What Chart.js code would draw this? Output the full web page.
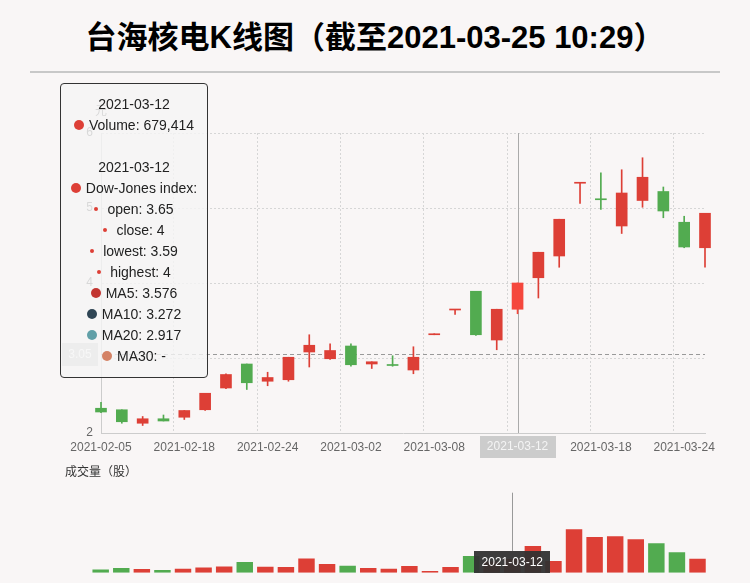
<!DOCTYPE html>
<html lang="zh-CN">
<head>
<meta charset="utf-8">
<title>台海核电K线图</title>
<script src="https://cdn.jsdelivr.net/npm/chart.js@4.4.1/dist/chart.umd.min.js"></script>
<style>
  html, body { margin: 0; padding: 0; }
  body {
    width: 750px;
    height: 583px;
    position: relative;
    overflow: hidden;
    background: #f9f6f6;
    font-family: "Liberation Sans", "Noto Sans CJK SC", sans-serif;
  }
  h1 {
    position: absolute;
    left: 0;
    top: 12px;
    width: 750px;
    margin: 0;
    text-align: center;
    line-height: 48px;
    font: bold 31px "Liberation Sans", "Noto Sans CJK SC", sans-serif;
    color: #000;
  }
  .rule { position: absolute; left: 30px; top: 71px; width: 690px; height: 2px; background: #c8c8c8; }
  #klineBox { position: absolute; left: 0; top: 90px; width: 750px; height: 370px; }
  #volumeBox { position: absolute; left: 0; top: 460px; width: 750px; height: 123px; }
  #tip {
    position: absolute;
    left: 60px;
    top: 83px;
    width: 148px;
    box-sizing: border-box;
    padding: 10px 0;
    border: 1px solid #333;
    border-radius: 4px;
    background: rgba(245, 245, 245, 0.8);
    color: #222;
    font-size: 14px;
    text-align: center;
  }
  .tip-row { height: 21px; line-height: 21px; white-space: nowrap; }
  .dot { display: inline-block; border-radius: 50%; vertical-align: middle; position: relative; top: -1px; }
</style>
</head>
<body>
<h1>台海核电K线图（截至2021-03-25 10:29）</h1>
<div class="rule"></div>
<div id="klineBox"><canvas id="klineChart"></canvas></div>
<div id="volumeBox"><canvas id="volumeChart"></canvas></div>
<div id="tip"></div>

<script>
const dates = [
  "2021-02-05", "2021-02-08", "2021-02-09", "2021-02-10", "2021-02-18",
  "2021-02-19", "2021-02-22", "2021-02-23", "2021-02-24", "2021-02-25",
  "2021-02-26", "2021-03-01", "2021-03-02", "2021-03-03", "2021-03-04",
  "2021-03-05", "2021-03-08", "2021-03-09", "2021-03-10", "2021-03-11",
  "2021-03-12", "2021-03-15", "2021-03-16", "2021-03-17", "2021-03-18",
  "2021-03-19", "2021-03-22", "2021-03-23", "2021-03-24", "2021-03-25",
];
const openPrices = [2.33, 2.31, 2.13, 2.19, 2.21, 2.31, 2.60, 2.92, 2.69, 2.71, 3.08, 2.99, 3.16, 2.92, 2.90, 2.84, 3.31, 3.64, 3.89, 3.24, 3.65, 4.07, 4.36, 5.33, 5.11, 4.76, 5.10, 5.22, 4.81, 4.47];
const closePrices = [2.28, 2.15, 2.19, 2.16, 2.30, 2.53, 2.78, 2.67, 2.74, 3.01, 3.17, 3.10, 2.91, 2.95, 2.90, 3.01, 3.31, 3.64, 3.31, 3.65, 4.00, 4.41, 4.85, 5.33, 5.11, 5.20, 5.41, 4.96, 4.48, 4.93];
const lowPrices = [2.27, 2.13, 2.10, 2.16, 2.18, 2.30, 2.59, 2.58, 2.63, 2.69, 2.88, 2.98, 2.89, 2.86, 2.89, 2.79, 3.31, 3.58, 3.30, 3.11, 3.59, 3.80, 4.21, 5.06, 4.98, 4.66, 5.01, 4.87, 4.47, 4.21];
const highPrices = [2.41, 2.31, 2.22, 2.24, 2.30, 2.53, 2.79, 2.92, 2.81, 3.01, 3.31, 3.19, 3.19, 2.95, 3.03, 3.15, 3.31, 3.64, 3.89, 3.65, 4.00, 4.41, 4.85, 5.33, 5.47, 5.51, 5.67, 5.28, 4.89, 4.93];
const volumes = [165000, 235000, 185000, 135000, 200000, 265000, 315000, 535000, 300000, 285000, 715000, 435000, 350000, 235000, 200000, 335000, 85000, 285000, 835000, 560000, 679414, 1335000, 585000, 2170000, 1785000, 1820000, 1670000, 1470000, 1020000, 700000];
const priceTicks = [2, 3, 4, 5, 6];
const volumeAxisMax = 4000000;

// hovered day and crosshair price shown in the picture
const activeIndex = 20;
const pointerPrice = 3.05;
const maNames = ["MA5", "MA10", "MA20", "MA30"];
const maValues = [3.576, 3.272, 2.917, null];
const maColors = ["#c23531", "#2f4554", "#61a0a8", "#d48265"];

const UP_COLOR = "#dd3f36";
const DOWN_COLOR = "#52ab50";
const ACTIVE_UP_COLOR = "#f5473d";
const FONT = '"Liberation Sans", "Noto Sans CJK SC", sans-serif';

Chart.defaults.font.family = FONT;
Chart.defaults.font.size = 12;

function isRising(i) {
  if (closePrices[i] !== openPrices[i]) return closePrices[i] > openPrices[i];
  return i === 0 || closePrices[i] >= closePrices[i - 1];
}

const candleColors = dates.map((_, i) => {
  if (!isRising(i)) return DOWN_COLOR;
  return i === activeIndex ? ACTIVE_UP_COLOR : UP_COLOR;
});
const volumeColors = dates.map((_, i) => (closePrices[i] >= openPrices[i] ? UP_COLOR : DOWN_COLOR));

function pointerBox(ctx, text, cx, top, width, height, fill, color) {
  ctx.fillStyle = fill;
  ctx.fillRect(Math.round(cx - width / 2), Math.round(top), width, height);
  ctx.fillStyle = color;
  ctx.textAlign = "center";
  ctx.textBaseline = "middle";
  ctx.fillText(text, cx, top + height / 2 + 0.5);
}

const klinePointer = {
  id: "klinePointer",
  beforeDatasetsDraw(chart) {
    const { ctx, chartArea, scales } = chart;
    const x = Math.round(scales.x.getPixelForValue(activeIndex)) + 0.5;
    const y = Math.round(scales.y.getPixelForValue(pointerPrice)) + 0.5;
    ctx.save();
    ctx.strokeStyle = "#aaa";
    ctx.lineWidth = 1;
    ctx.beginPath();
    ctx.moveTo(x, chartArea.top);
    ctx.lineTo(x, chartArea.bottom);
    ctx.stroke();
    ctx.strokeStyle = "#999";
    ctx.setLineDash([4, 3]);
    ctx.beginPath();
    ctx.moveTo(chartArea.left, y);
    ctx.lineTo(chartArea.right, y);
    ctx.stroke();
    ctx.restore();
  },
  afterDraw(chart) {
    const { ctx, chartArea, scales } = chart;
    const x = scales.x.getPixelForValue(activeIndex);
    const y = scales.y.getPixelForValue(pointerPrice);
    ctx.save();
    ctx.font = `12px ${FONT}`;
    ctx.fillStyle = "#666";
    ctx.textAlign = "center";
    ctx.textBaseline = "middle";
    ctx.fillText("元", chartArea.left, chartArea.top - 21);
    pointerBox(ctx, pointerPrice.toFixed(2), chartArea.left - 21, y - 11.5, 36, 23, "#ccc", "#fff");
    pointerBox(ctx, dates[activeIndex], x, chartArea.bottom + 2.5, 76, 22, "#ccc", "#f4f4f4");
    ctx.restore();
  },
};

new Chart(document.getElementById("klineChart"), {
  type: "bar",
  data: {
    labels: dates,
    datasets: [
      {
        label: "wick",
        data: dates.map((_, i) => [lowPrices[i], highPrices[i]]),
        backgroundColor: candleColors,
        barThickness: 1,
        minBarLength: 1,
        grouped: false,
        clip: false,
        order: 2,
      },
      {
        label: "Dow-Jones index",
        data: dates.map((_, i) => [
          Math.min(openPrices[i], closePrices[i]),
          Math.max(openPrices[i], closePrices[i]),
        ]),
        backgroundColor: candleColors,
        barThickness: 11,
        minBarLength: 1,
        grouped: false,
        clip: false,
        order: 1,
      },
    ],
  },
  options: {
    responsive: true,
    maintainAspectRatio: false,
    animation: false,
    events: [],
    layout: { padding: { left: 60, right: 45, top: 43, bottom: 0 } },
    plugins: {
      legend: { display: false },
      tooltip: { enabled: false },
    },
    scales: {
      x: {
        type: "category",
        offset: false,
        grid: {
          drawTicks: false,
          color: ctx => (ctx.index > 0 && ctx.index % 4 === 0 ? "#d6d6d6" : "transparent"),
        },
        border: { color: "#ccc", dash: [2, 2] },
        ticks: {
          autoSkip: false,
          minRotation: 0,
          maxRotation: 0,
          padding: 7,
          color: "#666",
          callback: (value, index) => (index % 4 === 0 ? dates[index] : ""),
        },
        afterFit: scale => { scale.height = 27; },
      },
      y: {
        min: 2,
        max: 6,
        afterBuildTicks: scale => { scale.ticks = priceTicks.map(value => ({ value })); },
        grid: {
          drawTicks: false,
          color: ctx => (ctx.tick && ctx.tick.value === priceTicks[0] ? "transparent" : "#d6d6d6"),
        },
        border: { color: "#ccc", dash: [2, 2] },
        ticks: { padding: 8, color: "#666" },
        afterFit: scale => { scale.width = 41; },
      },
    },
  },
  plugins: [klinePointer],
});

const volumePointer = {
  id: "volumePointer",
  afterDraw(chart) {
    const { ctx, chartArea, scales } = chart;
    const x = scales.x.getPixelForValue(activeIndex);
    const boxTop = chartArea.bottom - 21.7;
    ctx.save();
    ctx.font = `12px ${FONT}`;
    ctx.fillStyle = "#333";
    ctx.textAlign = "left";
    ctx.textBaseline = "middle";
    ctx.fillText("成交量（股）", 65, 13);
    ctx.strokeStyle = "#999";
    ctx.lineWidth = 1;
    ctx.beginPath();
    ctx.moveTo(Math.round(x) + 0.5, chartArea.top);
    ctx.lineTo(Math.round(x) + 0.5, boxTop);
    ctx.stroke();
    pointerBox(ctx, dates[activeIndex], x, boxTop, 76, 22, "rgba(50,50,50,0.95)", "#fff");
    ctx.restore();
  },
};

new Chart(document.getElementById("volumeChart"), {
  type: "bar",
  data: {
    labels: dates,
    datasets: [{
      label: "Volume",
      data: volumes,
      backgroundColor: volumeColors,
      categoryPercentage: 1,
      barPercentage: 0.8,
    }],
  },
  options: {
    responsive: true,
    maintainAspectRatio: false,
    animation: false,
    events: [],
    layout: { padding: { left: 90.4, right: 42.2, top: 32.7, bottom: 10.3 } },
    plugins: {
      legend: { display: false },
      tooltip: { enabled: false },
    },
    scales: {
      x: { display: false, offset: true },
      y: { display: false, min: 0, max: volumeAxisMax },
    },
  },
  plugins: [volumePointer],
});

function dot(color, size, gap) {
  return `<span class="dot" style="width:${size}px;height:${size}px;background:${color};margin-right:${gap}px"></span>`;
}

function buildTooltip() {
  const i = activeIndex;
  const rows = [
    dates[i],
    `${dot(UP_COLOR, 10, 5)}Volume: ${volumes[i].toLocaleString("en-US")}`,
    "&nbsp;",
    dates[i],
    `${dot(UP_COLOR, 10, 5)}Dow-Jones index:`,
    `${dot(UP_COLOR, 4, 9)}open: ${openPrices[i]}`,
    `${dot(UP_COLOR, 4, 9)}close: ${closePrices[i]}`,
    `${dot(UP_COLOR, 4, 9)}lowest: ${lowPrices[i]}`,
    `${dot(UP_COLOR, 4, 9)}highest: ${highPrices[i]}`,
  ];
  maNames.forEach((name, k) => {
    const value = maValues[k] == null ? "-" : maValues[k];
    rows.push(`${dot(maColors[k], 10, 5)}${name}: ${value}`);
  });
  document.getElementById("tip").innerHTML = rows.map(row => `<div class="tip-row">${row}</div>`).join("");
}

buildTooltip();
</script>
</body>
</html>
